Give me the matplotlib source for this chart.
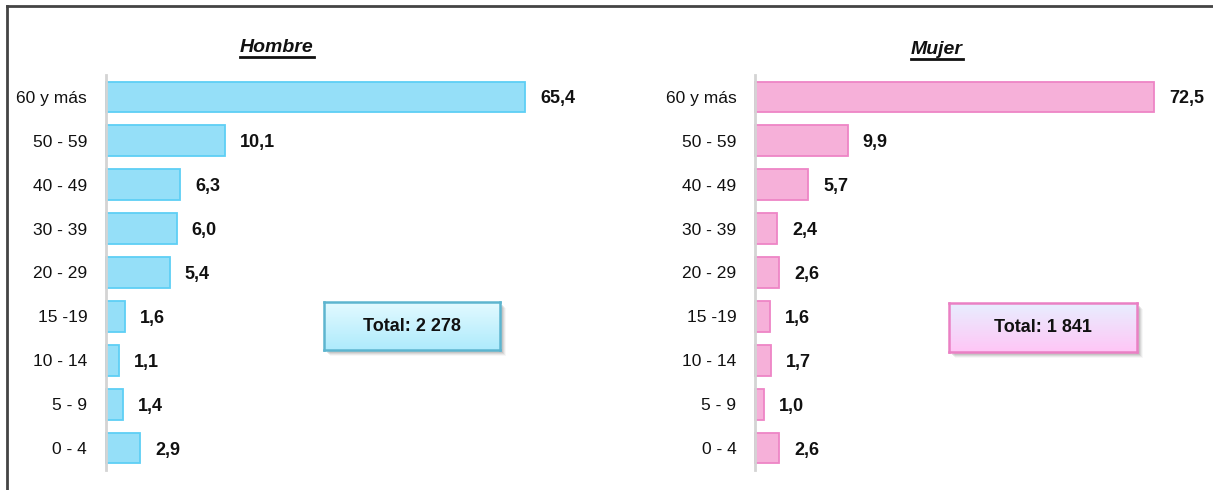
import numpy as np
import matplotlib
matplotlib.use("Agg")
import matplotlib.pyplot as plt
from matplotlib.lines import Line2D
from matplotlib.patches import Rectangle

plt.rcParams['font.family'] = ['Liberation Sans', 'DejaVu Sans']

categories = ["60 y más", "50 - 59", "40 - 49", "30 - 39", "20 - 29",
              "15 -19", "10 - 14", "5 - 9", "0 - 4"]
hombre = [65.4, 10.1, 6.3, 6.0, 5.4, 1.6, 1.1, 1.4, 2.9]
mujer = [72.5, 9.9, 5.7, 2.4, 2.6, 1.6, 1.7, 1.0, 2.6]
titles = ["Hombre", "Mujer"]
totals = ["Total: 2 278", "Total: 1 841"]

W, H = 1213, 490
fig = plt.figure(figsize=(W / 100, H / 100), dpi=100)


def px_rect(x0, y0, x1, y1):
    return [x0 / W, 1 - y1 / H, (x1 - x0) / W, (y1 - y0) / H]


panels = [
    dict(vals=hombre, rect=(106, 75, 525, 470), xmax=35.5,
         fc="#95DFF8", ec="#5ECFF5", title=titles[0], tx=277, ty=47,
         total=totals[0], box=(324, 302, 500, 350),
         grad=("#E4FAFF", "#AEEBFC"), bec="#5DB5CF"),
    dict(vals=mujer, rect=(755, 75, 1154, 470), xmax=42.7,
         fc="#F6B0D9", ec="#EE85C6", title=titles[1], tx=937, ty=49,
         total=totals[1], box=(949, 303, 1137, 352),
         grad=("#E8EEFF", "#FFC6F6"), bec="#EA80C4"),
]

for p in panels:
    ax = fig.add_axes(px_rect(*p["rect"]))
    vals = np.array(p["vals"])
    y = np.arange(len(categories))
    shown = np.minimum(vals, p["xmax"])
    ax.barh(y, shown, height=0.7, color=p["fc"], edgecolor=p["ec"],
            linewidth=1.3, clip_on=False)
    ax.set_xlim(0, p["xmax"])
    ax.set_ylim(len(categories) - 0.5, -0.5)
    ax.set_yticks(y)
    ax.set_yticklabels(categories, fontsize=12.5, color="#111111")
    ax.tick_params(axis='y', length=0, pad=13.5)
    ax.set_xticks([])
    for s in ["top", "right", "bottom"]:
        ax.spines[s].set_visible(False)
    ax.spines["left"].set_color("#D4D4D4")
    ax.spines["left"].set_linewidth(2)
    ax.patch.set_alpha(0)
    for yi, v, sv in zip(y, vals, shown):
        ax.annotate(f"{v:.1f}".replace(".", ","), xy=(sv, yi),
                    xytext=(15, 0), textcoords="offset pixels",
                    ha="left", va="center_baseline", fontsize=13,
                    fontweight="bold", color="#111111",
                    annotation_clip=False)
    # title
    fig.text(p["tx"] / W, 1 - p["ty"] / H, p["title"], ha="center",
             va="center", fontsize=14, fontweight="bold", style="italic",
             color="#111111")
    tw = {"Hombre": 74, "Mujer": 52}[p["title"]]
    fig.add_artist(Line2D([(p["tx"] - tw / 2) / W, (p["tx"] + tw / 2) / W],
                          [1 - (p["ty"] + 10) / H, 1 - (p["ty"] + 10) / H],
                          color="#111111", linewidth=2))
    # total box with shadow and gradient
    bx0, by0, bx1, by1 = p["box"]
    for off, a in [(6, 0.06), (5, 0.10), (4, 0.14), (3, 0.18)]:
        fig.add_artist(Rectangle(((bx0 + off) / W, 1 - (by1 + off) / H),
                                 (bx1 - bx0) / W, (by1 - by0) / H,
                                 transform=fig.transFigure, facecolor="#777777",
                                 edgecolor="none", alpha=a, zorder=-1))
    bax = fig.add_axes(px_rect(bx0, by0, bx1, by1))
    bax.set_zorder(5)
    c0 = np.array(matplotlib.colors.to_rgb(p["grad"][0]))
    c1 = np.array(matplotlib.colors.to_rgb(p["grad"][1]))
    t = np.linspace(0, 1, 64)[:, None, None]
    img = c0 * (1 - t) + c1 * t
    img = np.repeat(img, 2, axis=1)
    bax.imshow(img, aspect="auto", extent=(0, 1, 0, 1), origin="upper")
    bax.set_xticks([])
    bax.set_yticks([])
    for s in bax.spines.values():
        s.set_color(p["bec"])
        s.set_linewidth(1.8)
    bax.text(0.5, 0.5, p["total"], ha="center", va="center", fontsize=13,
             fontweight="bold", color="#111111", transform=bax.transAxes)

# outer frame (left and top)
fig.add_artist(Line2D([7 / W, 7 / W], [0, 1 - 6 / H], color="#444444",
                      linewidth=2))
fig.add_artist(Line2D([7 / W, 1], [1 - 6 / H, 1 - 6 / H], color="#444444",
                      linewidth=2))

fig.savefig("out.png", dpi=100)
